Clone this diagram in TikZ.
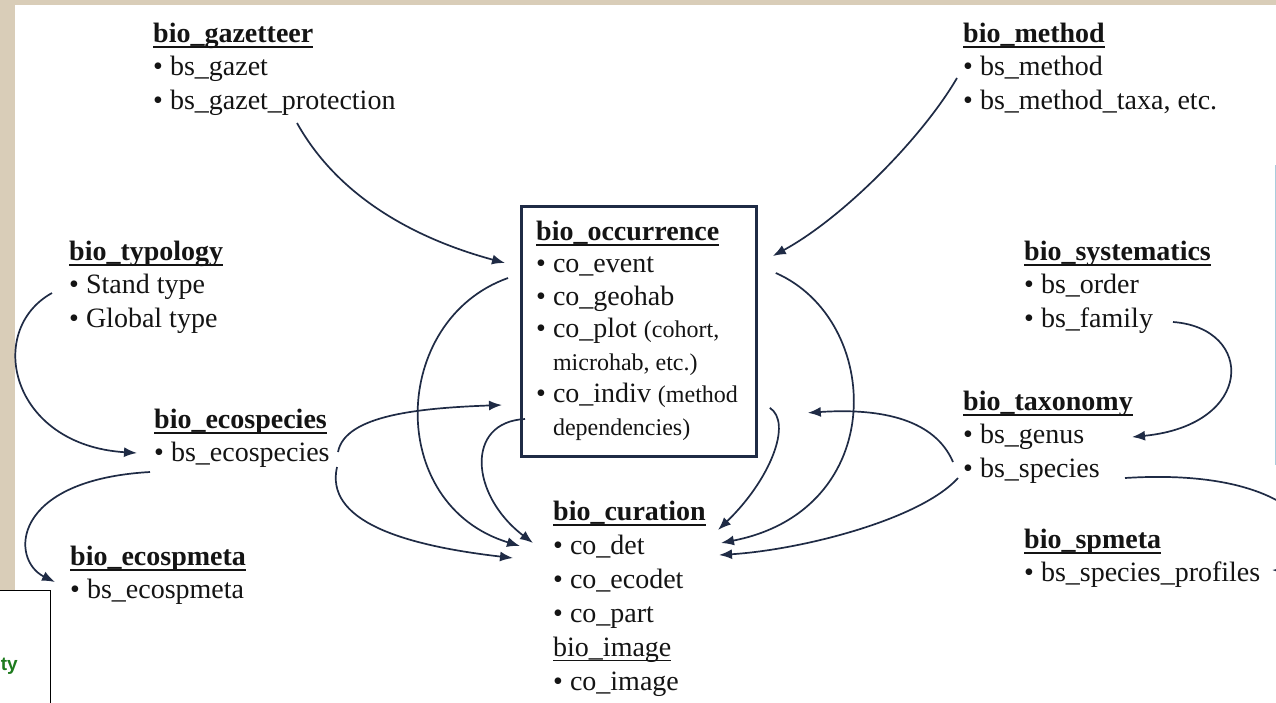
\documentclass[tikz,border=0pt]{standalone}
\usepackage{fontspec}
\setmainfont{Liberation Serif}
\newfontfamily\legendfont{Liberation Sans}
\usetikzlibrary{calc,arrows.meta}
\definecolor{parch}{HTML}{D9CDB8}
\definecolor{navy}{HTML}{1F2B45}
\definecolor{ink}{HTML}{141414}
\definecolor{legendgreen}{HTML}{1E7B1E}
\definecolor{edgeblue}{HTML}{A8CDDD}
\newcommand\hdr[1]{\setbox0\hbox{\bfseries #1}\rule{0pt}{24pt}\rlap{\rule[-6pt]{\wd0}{2.6pt}}\box0}
\newcommand\uhdr[1]{\setbox0\hbox{#1}\rlap{\rule[-5pt]{\wd0}{1.5pt}}\box0}
\newcommand\smtxt{\fontsize{24}{28}\selectfont}
\begin{document}
\begin{tikzpicture}[x=1pt,y=-1pt,
  blk/.style={anchor=north west, inner sep=0pt, align=left, text=ink, font=\fontsize{28}{33.5}\selectfont},
  conn/.style={draw=navy, line width=1.7pt, -{Latex[length=13pt,width=10pt]}}]
\clip (0,0) rectangle (1276,702);
\fill[parch] (0,0) rectangle (1276,702);
\fill[white] (15,5) rectangle (1276,702);
\draw[edgeblue, line width=1pt] (1275,165) -- (1275,465);

% blocks
\node[blk] (gaz) at (153,18) {\hdr{bio\_gazetteer}\\• bs\_gazet\\• bs\_gazet\_protection};
\node[blk] (meth) at (963,18) {\hdr{bio\_method}\\• bs\_method\\• bs\_method\_taxa, etc.};
\node[blk] (typ) at (69,236) {\hdr{bio\_typology}\\• Stand type\\• Global type};
\node[blk] (syst) at (1024,236) {\hdr{bio\_systematics}\\• bs\_order\\• bs\_family};
\node[blk] (eco) at (154,404) {\hdr{bio\_ecospecies}\\• bs\_ecospecies};
\node[blk] (tax) at (963,386) {\hdr{bio\_taxonomy}\\• bs\_genus\\• bs\_species};
\node[blk] (ecom) at (70,541) {\hdr{bio\_ecospmeta}\\• bs\_ecospmeta};
\node[blk] (spm) at (1024,524) {\hdr{bio\_spmeta}\\• bs\_species\_profiles};
\node[blk, font=\fontsize{28}{34}\selectfont] (cur) at (553,496) {\hdr{bio\_curation}\\• co\_det\\• co\_ecodet\\• co\_part\\\uhdr{bio\_image}\\• co\_image};

\node[draw=navy, line width=2.8pt, minimum width=235pt, minimum height=250pt, inner sep=0pt, anchor=north west] (occbox) at (520,205) {};
\node[blk, font=\fontsize{28}{32.5}\selectfont] (occ) at (536,216) {\hdr{bio\_occurrence}\\• co\_event\\• co\_geohab\\• co\_plot {\smtxt(cohort,}\\\phantom{• }{\smtxt microhab, etc.)}\\• co\_indiv {\smtxt(method}\\\phantom{• }{\smtxt dependencies)}};

% partial legend box at bottom left
\node[draw=black, fill=white, line width=1.2pt, minimum width=60pt, minimum height=130pt, inner sep=0pt, anchor=north west] (legend) at (-10,590) {};
\node[anchor=base east, inner sep=0pt, text=legendgreen, font=\legendfont\bfseries\fontsize{19}{22}\selectfont] (legty) at (18,670) {ty};

% connectors
\draw[conn] ($(gaz.north west)+(144,105)$) .. controls +(43,77) and +(-85,-23) .. ($(occbox.north west)+(-15,58)$);
\draw[conn] ($(meth.north west)+(-6,60)$) .. controls +(-35,60) and +(70,-38) .. ($(occbox.north east)+(15,51)$);
\draw[conn] ($(typ.north west)+(-17,57)$) .. controls +(-67,37) and +(-127,-8) .. ($(eco.north west)+(-17,49)$);
\draw[conn] ($(eco.north west)+(-4,68)$) .. controls +(-140,8) and +(-45,-22) .. ($(ecom.north west)+(-15,41)$);
\draw[conn] ($(eco.north west)+(184,48)$) .. controls +(7,-37) and +(-82,3) .. ($(occbox.north west)+(-18,200)$);
\draw[conn] ($(eco.north west)+(183,63)$) .. controls +(-12,53) and +(-113,-13) .. ($(cur.north west)+(-40,62)$);
\draw[conn] ($(occbox.north west)+(-12,73)$) .. controls +(-118,42) and +(-135,-41) .. ($(cur.north west)+(-33,50)$);
\draw[conn] ($(occbox.north west)+(5,214)$) .. controls +(-60,3) and +(-63,-48) .. ($(cur.north west)+(-20,47)$);
\draw[conn] ($(occbox.south east)+(12,-50)$) .. controls +(23,15) and +(52,-50) .. ($(cur.north west)+(165,34)$);
\draw[conn] ($(occbox.north east)+(18,68)$) .. controls +(107,47) and +(169,-33) .. ($(cur.north west)+(168,47)$);
\draw[conn] ($(tax.north west)+(-5,92)$) .. controls +(-38,42) and +(81,-5) .. ($(cur.north west)+(166,59)$);
\draw[conn] ($(tax.north west)+(-10,76)$) .. controls +(-18,-42) and +(75,-5) .. ($(occbox.south east)+(50,-45)$);
\draw[conn] ($(syst.north west)+(149,86)$) .. controls +(82,6) and +(123,-12) .. ($(tax.north west)+(169,51)$);
\draw[conn] ($(tax.north west)+(162,92)$) .. controls +(205,-13) and +(68,3) .. ($(spm.north west)+(248,46)$);
\end{tikzpicture}
\end{document}
